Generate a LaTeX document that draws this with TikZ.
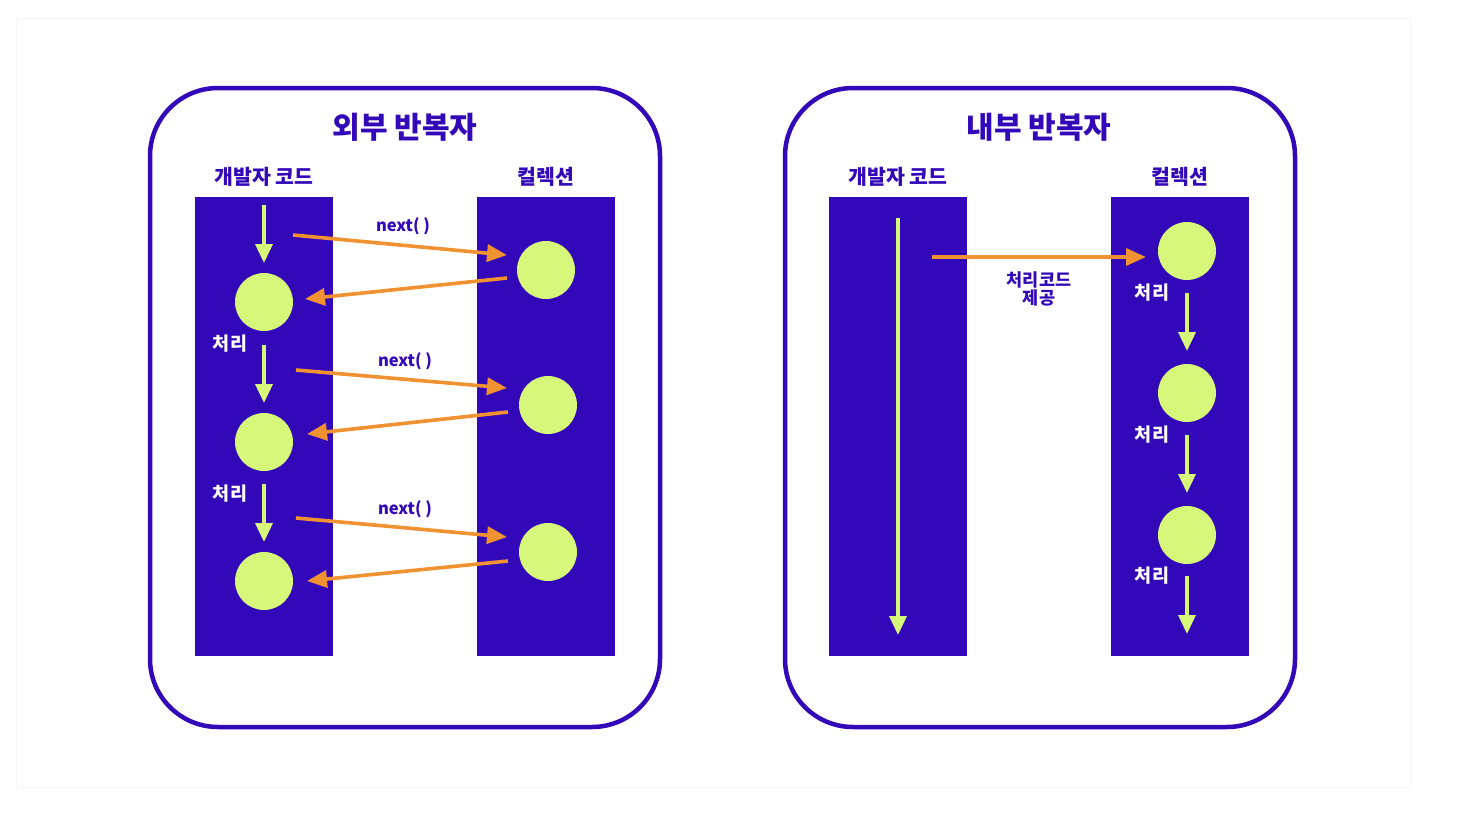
\documentclass[tikz,border=0pt]{standalone}
\usepackage{fontspec}
\newfontfamily\kr{Noto Sans CJK KR}
\usetikzlibrary{arrows.meta}
\definecolor{indig}{RGB}{51,8,184}
\definecolor{lime}{RGB}{214,247,122}
\definecolor{orng}{RGB}{240,145,50}
\tikzset{
  outerbox/.style={draw=indig,line width=4.5pt,rounded corners=68pt},
  col/.style={fill=indig,draw=none},
  ball/.style={circle,fill=lime,draw=none,minimum size=58pt,inner sep=0pt},
  garrow/.style={draw=lime,line width=3.6pt,-{Triangle[width=17pt,length=19pt]}},
  oarrow/.style={draw=orng,line width=3.6pt,-{Triangle[width=17pt,length=20pt]}},
  ttl/.style={text=indig,font=\kr\bfseries\fontsize{30}{33}\selectfont,inner sep=0pt},
  hdr/.style={text=indig,font=\kr\bfseries\fontsize{20.5}{23}\selectfont,inner sep=0pt},
  wlab/.style={text=white,font=\kr\bfseries\fontsize{18.5}{20}\selectfont,inner sep=0pt},
  nlab/.style={text=indig,font=\kr\bfseries\fontsize{16.5}{20}\selectfont,inner sep=0pt},
  plab/.style={text=indig,font=\kr\bfseries\fontsize{17.5}{18.5}\selectfont,inner sep=0pt,align=center},
}
\begin{document}
\begin{tikzpicture}[x=1pt,y=-1pt]
\useasboundingbox[fill=white] (0,0) rectangle (1476,828);
\draw[black!4,line width=1pt] (16,18) rectangle (1410,787);
% ---------- left panel ----------
\draw[outerbox] (150,88) rectangle (660,727);
\node[ttl] (t1) at (405,127) {외부 반복자};
\node[hdr] (h1) at (264,177) {개발자 코드};
\node[hdr] (h2) at (546,177) {컬렉션};
\fill[col] (195,197) rectangle (333,656);
\fill[col] (477,197) rectangle (615,656);
\node[ball] (l1) at (264,302) {};
\node[ball] (l2) at (264,442) {};
\node[ball] (l3) at (264,581) {};
\node[ball] (r1) at (546,270) {};
\node[ball] (r2) at (548,405) {};
\node[ball] (r3) at (548,552) {};
\coordinate (g0) at (264,205);  \coordinate (g0e) at (264,263);
\coordinate (g1a) at (264,345); \coordinate (g1e) at (264,403);
\coordinate (g2a) at (264,484); \coordinate (g2e) at (264,542);
\draw[garrow] (g0) -- (g0e);
\draw[garrow] (g1a) -- (g1e);
\draw[garrow] (g2a) -- (g2e);
\node[wlab] (p1) at (230,344) {처리};
\node[wlab] (p2) at (230,494) {처리};
\coordinate (s1) at (293,235); \coordinate (e1) at (507,255);
\coordinate (s2) at (296,370); \coordinate (e2) at (507,388);
\coordinate (s3) at (296,518); \coordinate (e3) at (507,537);
\coordinate (b1) at (507,278); \coordinate (f1) at (305,299);
\coordinate (b2) at (508,412); \coordinate (f2) at (307,434);
\coordinate (b3) at (508,561); \coordinate (f3) at (307,581);
\draw[oarrow] (s1) -- (e1);
\draw[oarrow] (b1) -- (f1);
\draw[oarrow] (s2) -- (e2);
\draw[oarrow] (b2) -- (f2);
\draw[oarrow] (s3) -- (e3);
\draw[oarrow] (b3) -- (f3);
\node[nlab] (n1) at (403,226) {next( )};
\node[nlab] (n2) at (405,361) {next( )};
\node[nlab] (n3) at (405,509) {next( )};
% ---------- right panel ----------
\draw[outerbox] (785,88) rectangle (1295,727);
\node[ttl] (t2) at (1039,127) {내부 반복자};
\node[hdr] (h3) at (898,177) {개발자 코드};
\node[hdr] (h4) at (1180,177) {컬렉션};
\fill[col] (829,197) rectangle (967,656);
\fill[col] (1111,197) rectangle (1249,656);
\coordinate (d0) at (898,218);
\coordinate (d1) at (898,635);
\draw[garrow] (d0) -- (d1);
\node[ball] (k1) at (1187,251) {};
\node[ball] (k2) at (1187,393) {};
\node[ball] (k3) at (1187,535) {};
\coordinate (o0) at (932,257);
\coordinate (o1) at (1146,257);
\draw[oarrow] (o0) -- (o1);
\node[plab] (pc) at (1039,289) {처리코드\\제공};
\node[wlab] (q1) at (1152,293) {처리};
\node[wlab] (q2) at (1152,435) {처리};
\node[wlab] (q3) at (1152,576) {처리};
\coordinate (m1) at (1187,293); \coordinate (m1e) at (1187,351);
\coordinate (m2) at (1187,435); \coordinate (m2e) at (1187,493);
\coordinate (m3) at (1187,576); \coordinate (m3e) at (1187,634);
\draw[garrow] (m1) -- (m1e);
\draw[garrow] (m2) -- (m2e);
\draw[garrow] (m3) -- (m3e);
\end{tikzpicture}
\end{document}
